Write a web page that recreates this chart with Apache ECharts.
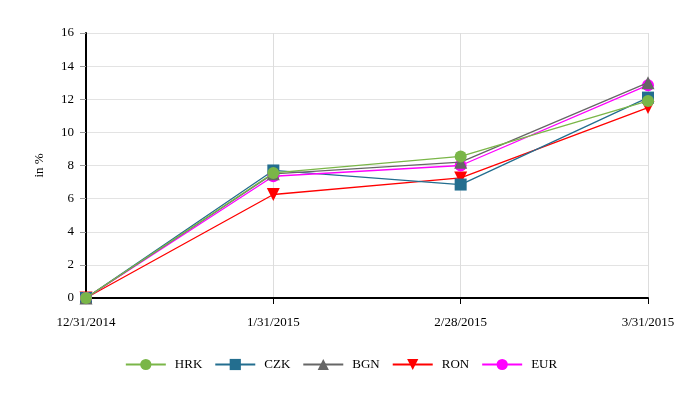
<!DOCTYPE html>
<html>
<head>
<meta charset="utf-8">
<script src="https://cdn.jsdelivr.net/npm/echarts@6/dist/echarts.min.js"></script>
<style>
  html, body { margin: 0; padding: 0; background: #fff; }
  #chart { width: 682px; height: 400px; }
</style>
</head>
<body>
<div id="chart"></div>
<script>
var dates = ['12/31/2014', '1/31/2015', '2/28/2015', '3/31/2015'];
var hrk = [0, 7.55, 8.55, 11.9];
var czk = [0, 7.7, 6.85, 12.1];
var bgn = [0, 7.5, 8.2, 13.0];
var ron = [0, 6.25, 7.25, 11.5];
var eur = [0, 7.35, 8.0, 12.85];

var myChart = echarts.init(document.getElementById('chart'));
var font = 'Liberation Serif, Times New Roman, serif';

function line(name, data, color, symbol, z) {
  return {
    name: name,
    type: 'line',
    data: data,
    symbol: symbol,
    symbolSize: symbol === 'triangle' ? 13 : 12,
    symbolRotate: name === 'RON' ? 180 : 0,
    z: z,
    lineStyle: { color: color, width: 1.3 },
    itemStyle: { color: color, borderColor: color, borderWidth: 0 },
    animation: false
  };
}

var option = {
  textStyle: { fontFamily: font },
  grid: { left: 86, right: 34, top: 33, bottom: 102 },
  legend: {
    bottom: 24,
    left: 'center',
    itemWidth: 40,
    itemHeight: 14,
    itemGap: 12,
    textStyle: { fontFamily: font, fontSize: 13, color: '#000', padding: [0, 0, 0, 4] },
    data: ['HRK', 'CZK', 'BGN', 'RON', 'EUR']
  },
  xAxis: {
    type: 'category',
    data: dates,
    boundaryGap: false,
    axisLine: { lineStyle: { color: '#000', width: 2 } },
    axisTick: { show: true, length: 6, lineStyle: { color: '#000' } },
    axisLabel: { color: '#000', fontSize: 13, fontFamily: font, margin: 18 },
    splitLine: { show: true, lineStyle: { color: '#dddddd', width: 1 } }
  },
  yAxis: {
    type: 'value',
    min: 0,
    max: 16,
    interval: 2,
    name: 'in %',
    nameLocation: 'middle',
    nameGap: 40,
    nameTextStyle: { color: '#000', fontSize: 13, fontFamily: font },
    axisLine: { show: true, lineStyle: { color: '#000', width: 2 } },
    axisTick: { show: true, length: 6, lineStyle: { color: '#999' } },
    axisLabel: { color: '#000', fontSize: 13, fontFamily: font, margin: 12 },
    splitLine: { show: true, lineStyle: { color: '#e3e3e3', width: 1 } }
  },
  series: [
    line('HRK', hrk, '#7ab648', 'circle', 6),
    line('CZK', czk, '#236e8f', 'rect', 3),
    line('BGN', bgn, '#666666', 'triangle', 5),
    line('RON', ron, '#ff0000', 'triangle', 2),
    line('EUR', eur, '#ff00ff', 'circle', 4)
  ]
};

myChart.setOption(option);
</script>
</body>
</html>
